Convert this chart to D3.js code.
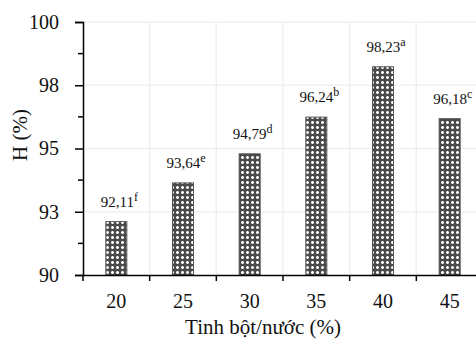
<!DOCTYPE html>
<html>
<head>
<meta charset="utf-8">
<script src="https://cdn.jsdelivr.net/npm/d3@7"></script>
<style>
  html, body { margin: 0; padding: 0; background: #fff; }
  svg { display: block; }
  svg text { font-family: "Liberation Serif", "Times New Roman", serif; }
</style>
</head>
<body>
<div id="chart"></div>
<script>
const categories = ["20", "25", "30", "35", "40", "45"];
const values = [92.11, 93.64, 94.79, 96.24, 98.23, 96.18];
const letters = ["f", "e", "d", "b", "a", "c"];
const yTicks = [90, 92.5, 95, 97.5, 100];
const yTickLabels = ["90", "93", "95", "98", "100"];
const yMinorTicks = [91.25, 93.75, 96.25, 98.75];

const width = 476;
const height = 340;
const margin = { top: 22, right: -7, bottom: 65, left: 83 };

const svg = d3
  .select("#chart")
  .append("svg")
  .attr("width", width)
  .attr("height", height);

// dotted fill, close to the excel pattern
const defs = svg.append("defs");
const pat = defs
  .append("pattern")
  .attr("id", "dots")
  .attr("patternUnits", "userSpaceOnUse")
  .attr("width", 5)
  .attr("height", 5);
pat.append("rect").attr("width", 5).attr("height", 5).attr("fill", "#4a4a4a");
pat.append("rect").attr("x", 1).attr("y", 1).attr("width", 3).attr("height", 3).attr("fill", "#a0a0a0");
pat.append("rect").attr("x", 2).attr("y", 1).attr("width", 1).attr("height", 3).attr("fill", "#ffffff");
pat.append("rect").attr("x", 1).attr("y", 2).attr("width", 3).attr("height", 1).attr("fill", "#ffffff");

const x = d3
  .scaleBand()
  .domain(categories)
  .range([margin.left, width - margin.right])
  .padding(0);

const y = d3
  .scaleLinear()
  .domain([90, 100])
  .range([height - margin.bottom, margin.top]);

// grid
svg
  .append("g")
  .attr("class", "grid")
  .selectAll("line")
  .data(yTicks.slice(1))
  .join("line")
  .attr("x1", margin.left)
  .attr("x2", width)
  .attr("y1", (d) => y(d))
  .attr("y2", (d) => y(d))
  .attr("stroke", "#efefef")
  .attr("stroke-width", 1.5);

svg
  .append("g")
  .attr("class", "grid")
  .selectAll("line")
  .data(categories.slice(1))
  .join("line")
  .attr("x1", (d) => x(d))
  .attr("x2", (d) => x(d))
  .attr("y1", y(100))
  .attr("y2", y(90))
  .attr("stroke", "#efefef")
  .attr("stroke-width", 1.5);

// bars
const barW = x.bandwidth() * 0.315;
svg
  .append("g")
  .selectAll("rect")
  .data(values)
  .join("rect")
  .attr("x", (d, i) => x(categories[i]) + x.bandwidth() / 2 - barW / 2)
  .attr("y", (d) => y(d))
  .attr("width", barW)
  .attr("height", (d) => y(90) - y(d))
  .attr("fill", "url(#dots)")
  .attr("stroke", "#555")
  .attr("stroke-width", 1);

// value labels, letter as superscript
const labels = svg
  .append("g")
  .selectAll("text")
  .data(values)
  .join("text")
  .attr("x", (d, i) => x(categories[i]) + x.bandwidth() / 2 + 3)
  .attr("y", (d) => y(d) - 15)
  .attr("text-anchor", "middle")
  .attr("font-size", 15)
  .attr("fill", "#111");
labels.append("tspan").text((d) => d3.format(".2f")(d).replace(".", ","));
labels
  .append("tspan")
  .attr("dy", -6)
  .attr("font-size", 12)
  .text((d, i) => letters[i]);

// y axis
const yAxis = svg
  .append("g")
  .attr("transform", `translate(${margin.left},0)`)
  .call(
    d3
      .axisLeft(y)
      .tickValues(yTicks)
      .tickSize(8)
      .tickPadding(16)
      .tickFormat((d, i) => yTickLabels[i])
  );
yAxis.attr("font-family", null);
yAxis.select(".domain").attr("stroke", "#000").attr("stroke-width", 1.5);
yAxis.selectAll(".tick line").attr("stroke", "#000").attr("stroke-width", 1.5);
yAxis.selectAll(".tick text").attr("font-size", 20).attr("fill", "#111");

svg
  .append("g")
  .selectAll("line")
  .data(yMinorTicks)
  .join("line")
  .attr("x1", margin.left - 5)
  .attr("x2", margin.left)
  .attr("y1", (d) => y(d))
  .attr("y2", (d) => y(d))
  .attr("stroke", "#000")
  .attr("stroke-width", 1.5);

// x axis
const xAxis = svg
  .append("g")
  .attr("transform", `translate(0,${y(90)})`)
  .call(d3.axisBottom(x).tickSize(0).tickPadding(19));
xAxis.attr("font-family", null);
xAxis.select(".domain").attr("stroke", "#000").attr("stroke-width", 1.5);
xAxis.selectAll(".tick text").attr("font-size", 20).attr("fill", "#111");

svg
  .append("g")
  .selectAll("line")
  .data(categories)
  .join("line")
  .attr("x1", (d) => x(d))
  .attr("x2", (d) => x(d))
  .attr("y1", y(90))
  .attr("y2", y(90) + 6)
  .attr("stroke", "#000")
  .attr("stroke-width", 1.5);

// axis titles
svg
  .append("text")
  .attr("x", 263)
  .attr("y", 334)
  .attr("text-anchor", "middle")
  .attr("font-size", 21)
  .attr("fill", "#111")
  .text("Tinh bột/nước (%)");

svg
  .append("text")
  .attr("transform", "translate(27,135) rotate(-90)")
  .attr("text-anchor", "middle")
  .attr("font-size", 21)
  .attr("fill", "#111")
  .text("H (%)");
</script>
</body>
</html>
